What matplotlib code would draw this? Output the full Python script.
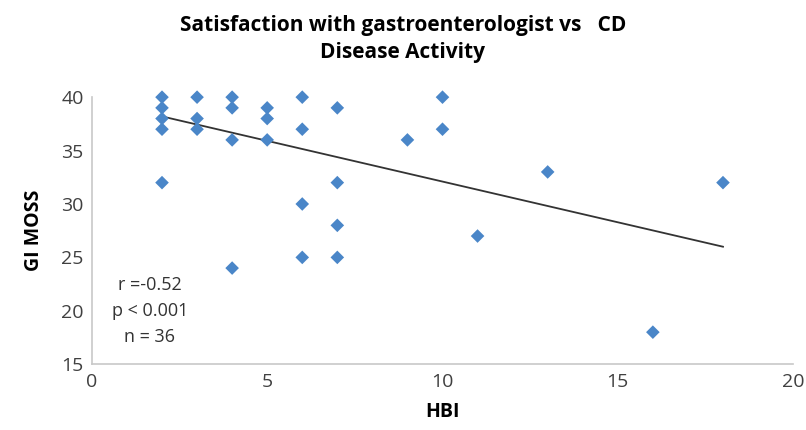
import numpy as np
import matplotlib.pyplot as plt

# HBI vs GI MOSS
hbi = [2, 2, 2, 2, 2, 3, 3, 3, 4, 4, 4, 4, 5, 5, 5,
       6, 6, 6, 6, 7, 7, 7, 7, 9, 10, 10, 11, 13, 16, 18]
gi_moss = [40, 39, 38, 37, 32, 40, 38, 37, 40, 39, 36, 24, 39, 38, 36,
           40, 37, 30, 25, 39, 32, 28, 25, 36, 40, 37, 27, 33, 18, 32]

# linear trend line end points
trend_x = [2, 18]
trend_y = [38.2, 26.0]

stats_text = "r =-0.52\np < 0.001\nn = 36"

plt.rcParams['font.family'] = ['Open Sans', 'DejaVu Sans']

fig = plt.figure(figsize=(8.06, 4.30), dpi=100)
ax = fig.add_axes([0.114, 0.153, 0.870, 0.621])

ax.scatter(hbi, gi_moss, marker='D', s=48, color='#4a86c8', edgecolors='none',
           zorder=3, clip_on=False)
ax.plot(trend_x, trend_y, color='#333333', linewidth=1.3, zorder=2)

ax.set_xlim(0, 20)
ax.set_ylim(15, 40)
ax.set_xticks([0, 5, 10, 15, 20])
ax.set_yticks([15, 20, 25, 30, 35, 40])
ax.tick_params(length=0, labelsize=14, colors='#404040', pad=6)

for s in ['top', 'right']:
    ax.spines[s].set_visible(False)
for s in ['left', 'bottom']:
    ax.spines[s].set_color('#c8c8c8')
    ax.spines[s].set_linewidth(1.2)

ax.set_xlabel('HBI', fontsize=14, fontweight='bold', labelpad=8)
ax.set_ylabel('GI MOSS', fontsize=14, fontweight='bold', labelpad=12)

ax.text(1.65, 20.0, stats_text, ha='center', va='center', fontsize=13,
        color='#333333', linespacing=1.55)

fig.text(0.5, 0.965, 'Satisfaction with gastroenterologist vs   CD\nDisease Activity',
         ha='center', va='top', fontsize=15, fontweight='bold', linespacing=1.35)

fig.savefig('out.png', dpi=100)
